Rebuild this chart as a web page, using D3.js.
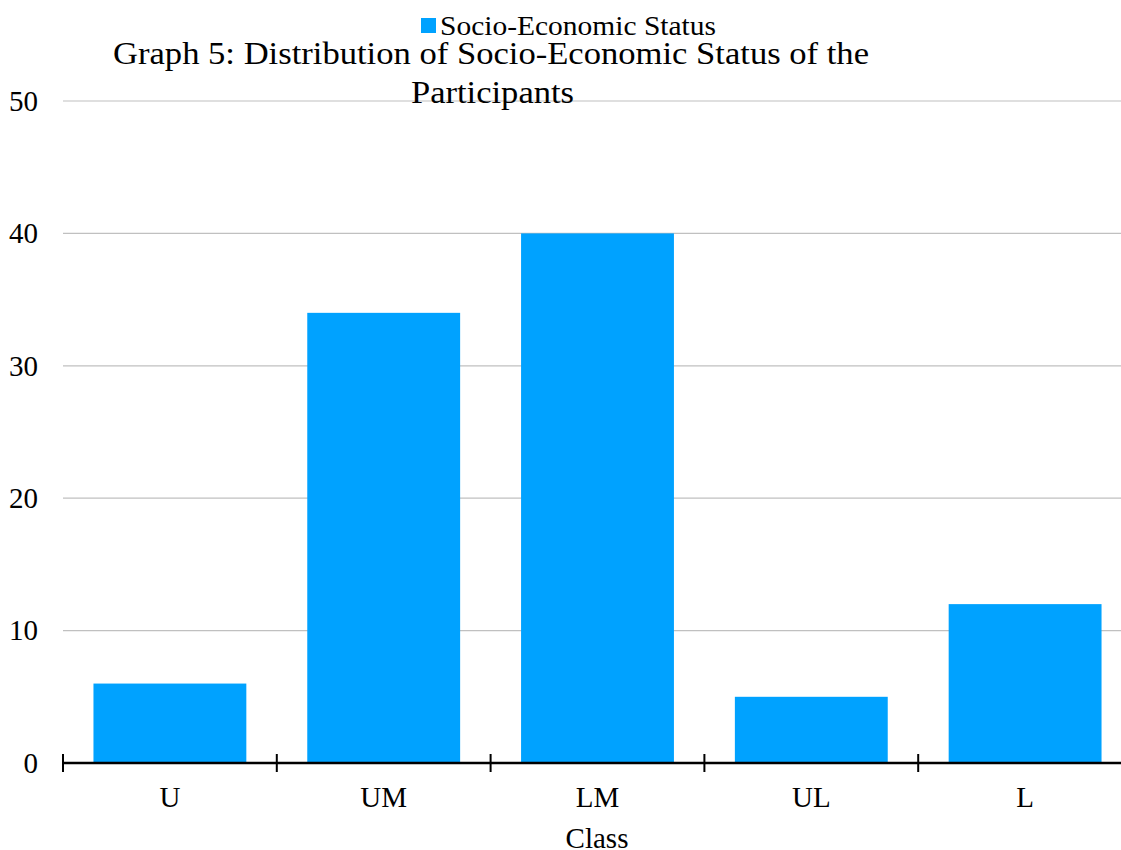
<!DOCTYPE html>
<html>
<head>
<meta charset="utf-8">
<script src="https://cdn.jsdelivr.net/npm/d3@7"></script>
<style>
  html, body { margin: 0; padding: 0; background: #fff; }
  svg { display: block; }
  text { font-family: "Liberation Serif", "Times New Roman", serif; fill: #000; }
</style>
</head>
<body>
<svg id="chart" width="1121" height="850"></svg>
<script>
// Socio-economic class counts
const categories = ["U", "UM", "LM", "UL", "L"];
const values = [6, 34, 40, 5, 12];
const yTicks = [0, 10, 20, 30, 40, 50];
const seriesName = "Socio-Economic Status";
const titleLines = ["Graph 5: Distribution of Socio-Economic Status of the", "Participants"];
const xTitle = "Class";

const W = 1121, H = 850;
const plotLeft = 63, bandStep = 213.8;
const plotRight = plotLeft + bandStep * categories.length;
const plotTop = 101, plotBottom = 763;
const barColor = "#00a2ff";

const svg = d3.select("#chart");

const x = d3.scaleBand().domain(categories).range([plotLeft, plotRight]).paddingInner(0.285).paddingOuter(0.1425);
const y = d3.scaleLinear().domain([0, 50]).range([plotBottom, plotTop]);

// horizontal gridlines
svg.append("g").selectAll("line").data(yTicks.filter(d => d > 0)).join("line")
  .attr("x1", plotLeft).attr("x2", W)
  .attr("y1", d => y(d)).attr("y2", d => y(d))
  .attr("stroke", "#c0c0c0").attr("stroke-width", 1.2);

// y tick labels
svg.append("g").selectAll("text").data(yTicks).join("text")
  .attr("x", 38).attr("y", d => y(d)).attr("dy", "0.34em")
  .attr("text-anchor", "end").attr("font-size", 29)
  .text(d => d);

// bars
svg.append("g").selectAll("rect").data(values).join("rect")
  .attr("x", (d, i) => x(categories[i]))
  .attr("width", x.bandwidth())
  .attr("y", d => y(d))
  .attr("height", d => y(0) - y(d))
  .attr("fill", barColor);

// x axis line and tick marks at band boundaries
const xAxis = svg.append("g");
xAxis.append("line").attr("x1", plotLeft).attr("x2", W).attr("y1", plotBottom).attr("y2", plotBottom)
  .attr("stroke", "#000").attr("stroke-width", 2.5);
xAxis.selectAll("line.tick").data(categories).join("line").attr("class", "tick")
  .attr("x1", d => x(d) - x.step() * x.paddingOuter())
  .attr("x2", d => x(d) - x.step() * x.paddingOuter())
  .attr("y1", plotBottom - 9).attr("y2", plotBottom + 9)
  .attr("stroke", "#000").attr("stroke-width", 2);
xAxis.selectAll("text").data(categories).join("text")
  .attr("x", d => x(d) + x.bandwidth() / 2).attr("y", 807)
  .attr("text-anchor", "middle").attr("font-size", 29)
  .text(d => d);

// x axis title
svg.append("text").attr("x", 597).attr("y", 848).attr("text-anchor", "middle")
  .attr("font-size", 29).text(xTitle);

// legend
svg.append("rect").attr("x", 421).attr("y", 18).attr("width", 15).attr("height", 15).attr("fill", barColor);
svg.append("text").attr("x", 440).attr("y", 35).attr("font-size", 28)
  .attr("textLength", 276).attr("lengthAdjust", "spacingAndGlyphs").text(seriesName);

// chart title
svg.append("text").attr("x", 113).attr("y", 64).attr("font-size", 32)
  .attr("textLength", 756).attr("lengthAdjust", "spacingAndGlyphs").text(titleLines[0]);
svg.append("text").attr("x", 411).attr("y", 103).attr("font-size", 32)
  .attr("textLength", 163).attr("lengthAdjust", "spacingAndGlyphs").text(titleLines[1]);
</script>
</body>
</html>
